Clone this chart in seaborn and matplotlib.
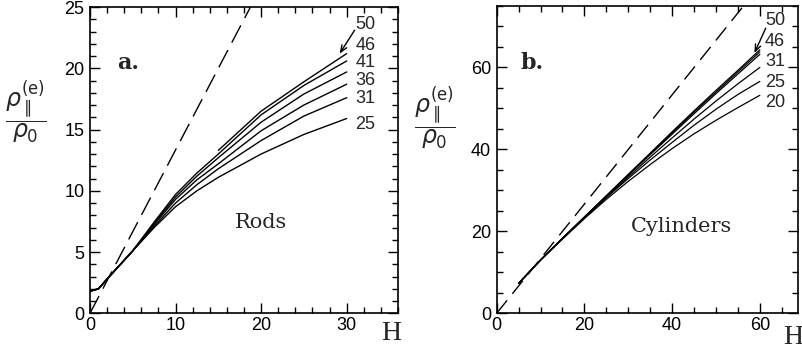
import numpy as np
import pandas as pd
import matplotlib
matplotlib.use("Agg")
import matplotlib.pyplot as plt
import seaborn as sns
from matplotlib.ticker import MultipleLocator

# ---------------- data: panel a (Rods) ----------------
H_a = [0, 1, 2, 5, 7.5, 10, 12.5, 15, 20, 25, 30]
rods_25 = [1.8, 2.0, 2.8, 5.1, 7.0, 8.7, 10.0, 11.1, 13.0, 14.6, 15.9]
rods_31 = [1.8, 2.0, 2.8, 5.1, 7.1, 9.0, 10.5, 11.8, 14.1, 16.1, 17.6]
rods_36 = [1.8, 2.0, 2.8, 5.1, 7.25, 9.3, 10.9, 12.2, 14.9, 17.0, 18.7]
rods_41 = [1.8, 2.0, 2.8, 5.1, 7.35, 9.5, 11.2, 12.7, 15.6, 17.9, 19.7]
rods_46 = [1.8, 2.0, 2.8, 5.1, 7.45, 9.7, 11.45, 13.0, 16.2, 18.6, 20.6]
H_a50 = [15, 20, 25, 30]
rods_50 = [13.3, 16.5, 18.9, 21.2]
rods_labels = ["50", "46", "41", "36", "31", "25"]
rods_label_y = [23.6, 21.9, 20.5, 19.0, 17.5, 15.4]
dash_a_H = [0, 19.5]
dash_a_y = [0, 26.0]

# ---------------- data: panel b (Cylinders) ----------------
H_b = [5, 10, 15, 20, 25, 30, 35, 40, 45, 50, 55, 60]
cyl_50 = [7.3, 13.0, 18.3, 23.5, 28.7, 33.9, 39.1, 44.3, 49.4, 54.4, 59.3, 64.3]
cyl_46 = [7.3, 13.0, 18.3, 23.5, 28.6, 33.8, 38.9, 44.0, 49.1, 54.0, 58.9, 63.8]
cyl_36 = [7.3, 13.0, 18.3, 23.4, 28.6, 33.7, 38.7, 43.7, 48.7, 53.6, 58.4, 63.2]
cyl_31 = [7.3, 13.0, 18.3, 23.4, 28.4, 33.3, 38.1, 42.8, 47.4, 51.8, 56.0, 60.0]
cyl_25 = [7.3, 13.0, 18.2, 23.3, 28.2, 32.9, 37.4, 41.7, 45.9, 49.8, 53.4, 56.6]
cyl_20 = [7.3, 13.0, 18.1, 23.1, 27.8, 32.2, 36.3, 40.2, 43.8, 47.1, 50.2, 53.2]
cyl_labels = ["50", "46", "31", "25", "20"]
cyl_label_y = [71.4, 66.3, 61.4, 56.4, 51.5]
dash_b_H = [0, 58]
dash_b_y = [0, 77.3]

# ---------------- build long tables ----------------
rows_a = []
for name, ys in [("25", rods_25), ("31", rods_31), ("36", rods_36), ("41", rods_41), ("46", rods_46)]:
    for h, v in zip(H_a, ys):
        rows_a.append((name, h, v))
for h, v in zip(H_a50, rods_50):
    rows_a.append(("50", h, v))
df_a = pd.DataFrame(rows_a, columns=["N", "H", "rho"])

rows_b = []
for name, ys in [("20", cyl_20), ("25", cyl_25), ("31", cyl_31), ("36", cyl_36), ("46", cyl_46), ("50", cyl_50)]:
    for h, v in zip(H_b, ys):
        rows_b.append((name, h, v))
df_b = pd.DataFrame(rows_b, columns=["N", "H", "rho"])

# ---------------- style ----------------
sns.set_style("ticks")
plt.rcParams["font.family"] = ["Liberation Sans", "DejaVu Sans"]
plt.rcParams["mathtext.fontset"] = "dejavusans"

fig = plt.figure(figsize=(8.02, 3.52), dpi=100)
ax_a = fig.add_axes([0.1122, 0.110, 0.3841, 0.870])
ax_b = fig.add_axes([0.6193, 0.110, 0.3757, 0.873])

def style_axes(ax, xmaj, xmin, ymaj, ymin):
    ax.xaxis.set_major_locator(MultipleLocator(xmaj))
    ax.xaxis.set_minor_locator(MultipleLocator(xmin))
    ax.yaxis.set_major_locator(MultipleLocator(ymaj))
    ax.yaxis.set_minor_locator(MultipleLocator(ymin))
    ax.tick_params(which="both", direction="in", top=True, right=True,
                   colors="black", labelsize=13, width=1.0)
    ax.tick_params(which="major", length=7, pad=4)
    ax.tick_params(which="minor", length=4)
    ax.tick_params(axis="x", which="major", pad=3)
    for s in ax.spines.values():
        s.set_linewidth(1.2)
        s.set_color("black")
        s.set_visible(True)
    ax.set_xlabel("")
    ax.set_ylabel("")
    ax.grid(False)

arrow_style = dict(arrowstyle="->,head_length=0.5,head_width=0.2", lw=1.0, color="black")

# ---------------- panel a ----------------
sns.lineplot(data=df_a, x="H", y="rho", units="N", estimator=None, color="black",
             lw=1.0, ax=ax_a, sort=False)
sns.lineplot(x=dash_a_H, y=dash_a_y, color="black", lw=1.0, ax=ax_a,
             dashes=False).lines[-1].set_dashes([14, 6])
ax_a.set_xlim(0, 36)
ax_a.set_ylim(0, 25)
style_axes(ax_a, 10, 2, 5, 1)
for lab, y in zip(rods_labels, rods_label_y):
    ax_a.text(31.0, y, lab, fontsize=13, ha="left", va="center")
ax_a.annotate("", xy=(29.0, 21.0), xytext=(31.1, 23.3), arrowprops=arrow_style)
ax_a.text(3.2, 20.4, "a.", fontsize=16, fontweight="bold", family="DejaVu Serif",
          ha="left", va="center")
ax_a.text(20.0, 7.4, "Rods", fontsize=15, family="DejaVu Serif", ha="center", va="center")

# ---------------- panel b ----------------
sns.lineplot(data=df_b, x="H", y="rho", units="N", estimator=None, color="black",
             lw=0.9, ax=ax_b, sort=False)
sns.lineplot(x=dash_b_H, y=dash_b_y, color="black", lw=1.0, ax=ax_b,
             dashes=False).lines[-1].set_dashes([12, 6])
ax_b.set_xlim(0, 68.7)
ax_b.set_ylim(0, 75)
style_axes(ax_b, 20, 5, 20, 5)
for lab, y in zip(cyl_labels, cyl_label_y):
    ax_b.text(61.2, y, lab, fontsize=13, ha="left", va="center")
ax_b.annotate("", xy=(58.5, 62.9), xytext=(61.6, 70.2), arrowprops=arrow_style)
ax_b.text(5.5, 61.2, "b.", fontsize=16, fontweight="bold", family="DejaVu Serif",
          ha="left", va="center")
ax_b.text(42.2, 21.1, "Cylinders", fontsize=15, family="DejaVu Serif", ha="center", va="center")

# ---------------- axis labels ----------------
frac = r"$\dfrac{\rho_{\parallel}^{(\mathrm{e})}}{\rho_0}$"
fig.text(26 / 802, 1 - 112 / 352, frac, fontsize=17, ha="center", va="center")
fig.text(435 / 802, 1 - 118 / 352, frac, fontsize=17, ha="center", va="center")
fig.text(391 / 802, 1 - 334 / 352, "H", fontsize=20, family="Liberation Serif", ha="center", va="center")
fig.text(793 / 802, 1 - 338 / 352, "H", fontsize=20, family="Liberation Serif", ha="center", va="center")

fig.savefig("out.png", dpi=100)
